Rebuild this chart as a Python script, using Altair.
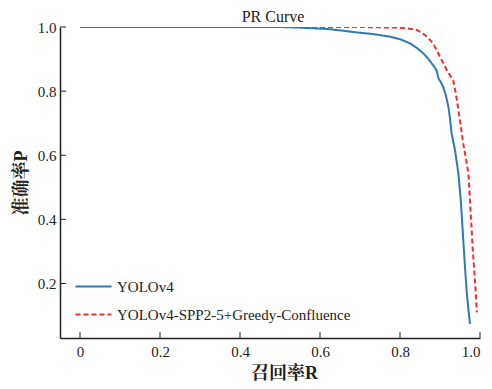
import altair as alt
import pandas as pd

title_text = ["PR Curve"]
series_names = ["YOLOv4", "YOLOv4-SPP2-5+Greedy-Confluence"]

blue_recall = [0, 0.50, 0.55, 0.60, 0.625, 0.66, 0.70, 0.733, 0.775, 0.80, 0.825, 0.845,
               0.858, 0.87, 0.879, 0.888, 0.892, 0.896, 0.902, 0.908, 0.915, 0.921, 0.925,
               0.929, 0.9375, 0.946, 0.952, 0.957, 0.9625, 0.967, 0.971, 0.975]
blue_precision = [1.0, 1.0, 0.998, 0.995, 0.993, 0.988, 0.982, 0.978, 0.970, 0.962, 0.949,
                  0.932, 0.918, 0.902, 0.887, 0.872, 0.862, 0.840, 0.828, 0.813, 0.785, 0.751,
                  0.715, 0.668, 0.616, 0.543, 0.459, 0.36, 0.251, 0.17, 0.12, 0.074]

red_recall = [0, 0.70, 0.80, 0.82, 0.842, 0.855, 0.867, 0.883, 0.9, 0.917, 0.933, 0.94,
              0.946, 0.952, 0.958, 0.965, 0.971, 0.975, 0.982, 0.988, 0.992]
red_precision = [1.0, 1.0, 0.998, 0.995, 0.991, 0.982, 0.970, 0.949, 0.907, 0.866, 0.834,
                 0.79, 0.741, 0.69, 0.637, 0.59, 0.543, 0.459, 0.303, 0.2, 0.110]

x_ticks = [0, 0.2, 0.4, 0.6, 0.8, 1.0]
y_ticks = [0.2, 0.4, 0.6, 0.8, 1.0]

colors = ["#2e78b8", "#ff2a2a"]
dashes = [[1, 0], [5, 3]]

FONT = "Liberation Serif, Times New Roman, Noto Serif CJK SC, Noto Sans CJK SC, serif"

rows = []
for i, (r, p) in enumerate(zip(blue_recall, blue_precision)):
    rows.append({"series": series_names[0], "R": r, "P": p, "order": i})
for i, (r, p) in enumerate(zip(red_recall, red_precision)):
    rows.append({"series": series_names[1], "R": r, "P": p, "order": i})
df = pd.DataFrame(rows)

W, H = 420, 311
xscale = alt.Scale(domain=[-0.05, 1.0], nice=False, zero=False)
yscale = alt.Scale(domain=[0.03, 1.0], nice=False, zero=False)

lines = alt.Chart(df).mark_line(strokeWidth=2, clip=True).encode(
    x=alt.X("R:Q", scale=xscale,
            axis=alt.Axis(values=x_ticks, title="召回率R", tickSize=0, grid=False,
                          labelExpr="datum.value == 0 ? '0' : format(datum.value, '.1f')",
                          labelPadding=6, titlePadding=5, titleX=224)),
    y=alt.Y("P:Q", scale=yscale,
            axis=alt.Axis(values=y_ticks, title="准确率P", tickSize=0, grid=False,
                          format=".1f", labelPadding=4, titlePadding=7)),
    color=alt.Color("series:N", scale=alt.Scale(domain=series_names, range=colors),
                    legend=alt.Legend(title=None, orient="none", legendX=14, legendY=240,
                                      symbolType="stroke", symbolSize=1300,
                                      symbolStrokeWidth=2, labelFontSize=15,
                                      labelFont=FONT, rowPadding=-7, labelLimit=400,
                                      labelColor="#222")),
    strokeDash=alt.StrokeDash("series:N", scale=alt.Scale(domain=series_names, range=dashes),
                              legend=None),
    order="order:Q",
)

xt = pd.DataFrame({"v": x_ticks})
yt = pd.DataFrame({"v": y_ticks})
xtick_marks = alt.Chart(xt).mark_rule(color="#222", strokeWidth=1).encode(
    x=alt.X("v:Q", scale=xscale), y=alt.value(H), y2=alt.value(H - 6))
ytick_marks = alt.Chart(yt).mark_rule(color="#222", strokeWidth=1).encode(
    y=alt.Y("v:Q", scale=yscale), x=alt.value(0), x2=alt.value(6))

title_mark = alt.Chart(pd.DataFrame({"t": title_text})).mark_text(
    font=FONT, fontSize=16, color="#222", baseline="alphabetic", align="center"
).encode(text="t:N", x=alt.value(213), y=alt.value(-5))

chart = alt.layer(lines, xtick_marks, ytick_marks, title_mark).properties(
    width=W, height=H,
    autosize=alt.AutoSizeParams(type="none"),
    padding={"left": 52, "top": 19, "right": 4, "bottom": 43},
).configure_view(stroke=None).configure_axis(
    labelFont=FONT, titleFont=FONT, labelFontSize=15, titleFontSize=18,
    titleFontWeight="bold", labelColor="#222", titleColor="#222",
    domainColor="#222", domainWidth=1.5,
)

chart.save("out.html", embed_options={"renderer": "svg", "actions": False})
